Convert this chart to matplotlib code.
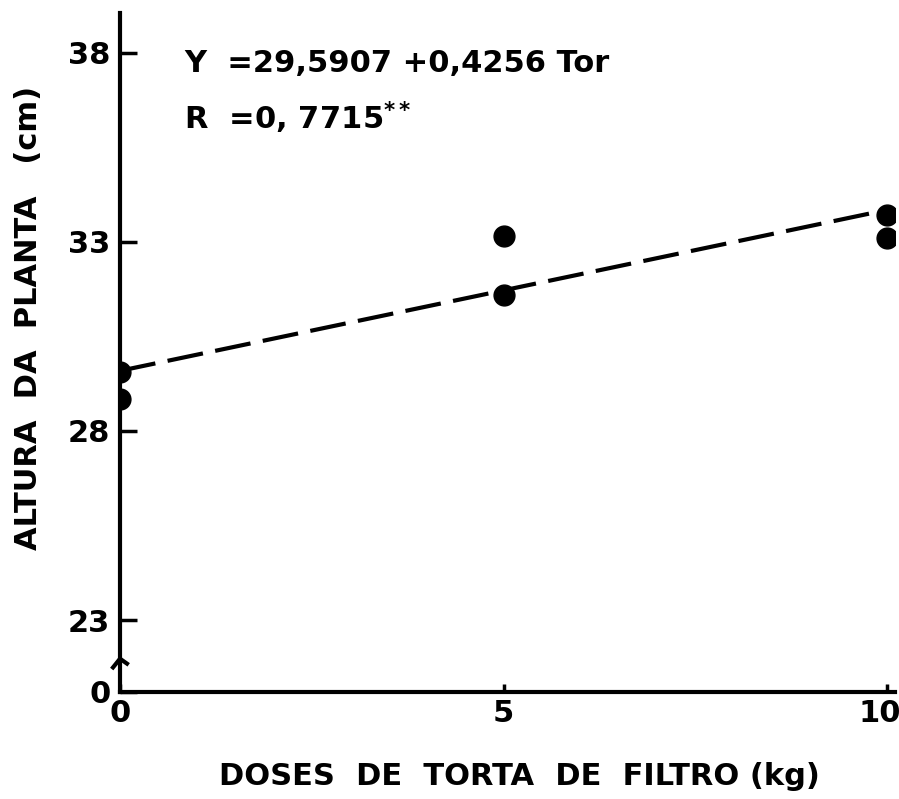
import numpy as np
import matplotlib
matplotlib.use('Agg')
import matplotlib.pyplot as plt
import matplotlib.transforms as mtransforms

# doses de torta de filtro (kg) e altura da planta (cm)
doses = [0, 0, 5, 5, 10, 10]
altura = [29.55, 28.85, 33.15, 31.6, 33.7, 33.1]

# regressao
a = 29.5907
b = 0.4256

y_ticks = [23, 28, 33, 38]
y_bottom = 21.1
x_ticks = [0, 5, 10]

plt.rcParams['font.family'] = 'DejaVu Sans'
plt.rcParams['lines.scale_dashes'] = False

fig = plt.figure(figsize=(8.99, 7.99), dpi=100)
ax = fig.add_axes([120 / 899, 107 / 799, 775 / 899, 679 / 799])

xl = np.linspace(0, 9.85, 50)
ax.plot(xl, a + b * xl, color='black', lw=3, dashes=(26, 9), zorder=2)
ax.plot(doses, altura, 'o', color='black', ms=15, zorder=3)

ax.set_xlim(0, 10.1)
ax.set_ylim(y_bottom, 39.05)

for s in ['top', 'right']:
    ax.spines[s].set_visible(False)
for s in ['left', 'bottom']:
    ax.spines[s].set_linewidth(3)

ax.set_yticks([y_bottom] + y_ticks)
ax.set_yticklabels(['0'] + [str(t) for t in y_ticks])
ax.set_xticks(x_ticks)
ax.set_xticklabels([str(t) for t in x_ticks])
ax.tick_params(axis='y', direction='in', length=12, width=2.5, pad=7,
               labelsize=22)
ax.tick_params(axis='x', direction='in', length=6, width=2.5, pad=5,
               labelsize=22)
for lab in ax.get_xticklabels() + ax.get_yticklabels():
    lab.set_fontweight('bold')
# "10" fica colado na borda direita
last = ax.get_xticklabels()[-1]
last.set_transform(last.get_transform() +
                   mtransforms.ScaledTranslation(-8 / 100, 0, fig.dpi_scale_trans))

# marca de quebra do eixo
trans = mtransforms.blended_transform_factory(ax.transAxes, ax.transData)
ax.plot([-0.009, 0.0, 0.009], [21.75, 21.98, 21.85], color='black', lw=3,
        transform=trans, clip_on=False)

ax.text(0.083, 0.925, 'Y  =29,5907 +0,4256 Tor', transform=ax.transAxes,
        fontsize=22, fontweight='bold', va='center')
ax.text(0.083, 0.845, r'R  =0, 7715$^{\mathbf{**}}$', transform=ax.transAxes,
        fontsize=22, fontweight='bold', va='center')

ax.set_xlabel('DOSES  DE  TORTA  DE  FILTRO (kg)', fontsize=22,
              fontweight='bold')
ax.xaxis.set_label_coords(0.516, -0.103)
ax.set_ylabel('ALTURA  DA  PLANTA   (cm)', fontsize=22, fontweight='bold')
ax.yaxis.set_label_coords(-0.099, 0.551)

fig.savefig('out.png', dpi=100)
